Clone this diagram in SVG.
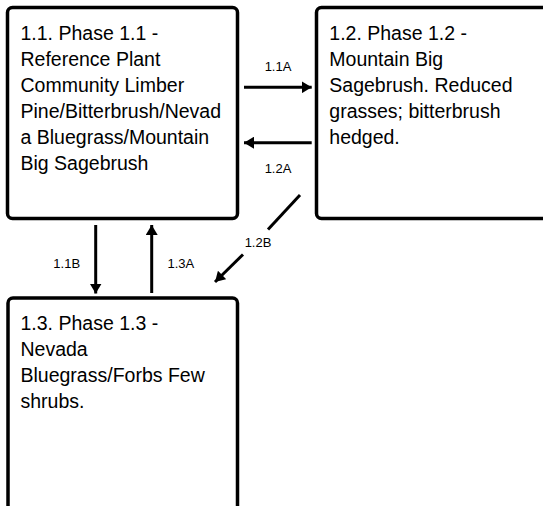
<svg xmlns="http://www.w3.org/2000/svg" width="543" height="506" viewBox="0 0 543 506">
<defs>
<style>
.box{fill:#fff;stroke:#000;stroke-width:3.5}
.t{font-family:"Liberation Sans",Arial,sans-serif;font-size:19.5px;fill:#000}
.l{font-family:"Liberation Sans",Arial,sans-serif;font-size:13px;fill:#000;text-anchor:middle}
.c{stroke:#000;stroke-width:3;fill:none;marker-end:url(#ah)}
</style>
<marker id="ah" viewBox="0 0 10 12" refX="10" refY="6" markerWidth="10" markerHeight="12" markerUnits="userSpaceOnUse" orient="auto">
<path d="M0,0 L10,6 L0,12 Z" fill="#000"/>
</marker>
</defs>
<rect width="543" height="506" fill="#fff"/>
<g id="n11">
<rect class="box" x="7.5" y="7.5" width="230" height="211" rx="5"/>
<text class="t" x="20.5" y="39.5">1.1. Phase 1.1 -</text>
<text class="t" x="20.5" y="65.5">Reference Plant</text>
<text class="t" x="20.5" y="91.7">Community Limber</text>
<text class="t" x="20.5" y="118">Pine/Bitterbrush/Nevad</text>
<text class="t" x="20.5" y="144.2">a Bluegrass/Mountain</text>
<text class="t" x="20.5" y="170.3">Big Sagebrush</text>
</g>
<g id="n12">
<rect class="box" x="316.5" y="7.5" width="232" height="211" rx="5"/>
<text class="t" x="329.3" y="39.5">1.2. Phase 1.2 -</text>
<text class="t" x="329.3" y="65.5">Mountain Big</text>
<text class="t" x="329.3" y="91.7">Sagebrush. Reduced</text>
<text class="t" x="329.3" y="118">grasses; bitterbrush</text>
<text class="t" x="329.3" y="144">hedged.</text>
</g>
<g id="n13">
<rect class="box" x="8" y="298" width="229.5" height="240" rx="5"/>
<text class="t" x="20.5" y="330">1.3. Phase 1.3 -</text>
<text class="t" x="20.5" y="356">Nevada</text>
<text class="t" x="20.5" y="382">Bluegrass/Forbs Few</text>
<text class="t" x="20.5" y="408">shrubs.</text>
</g>
<g id="connectors">
<line class="c" x1="244" y1="87.3" x2="311.7" y2="87.3"/>
<text class="l" x="278" y="70.7">1.1A</text>
<line class="c" x1="311.7" y1="142.7" x2="244" y2="142.7"/>
<text class="l" x="278" y="173.3">1.2A</text>
<line x1="300" y1="195" x2="268" y2="229.5" stroke="#000" stroke-width="3"/>
<line class="c" x1="243" y1="254.5" x2="215" y2="282"/>
<text class="l" x="258" y="247.3">1.2B</text>
<line class="c" x1="95.7" y1="225" x2="95.7" y2="293.5"/>
<text class="l" x="66.7" y="268.3">1.1B</text>
<line class="c" x1="151.7" y1="293" x2="151.7" y2="225"/>
<text class="l" x="180.8" y="268.3">1.3A</text>
</g>
</svg>
